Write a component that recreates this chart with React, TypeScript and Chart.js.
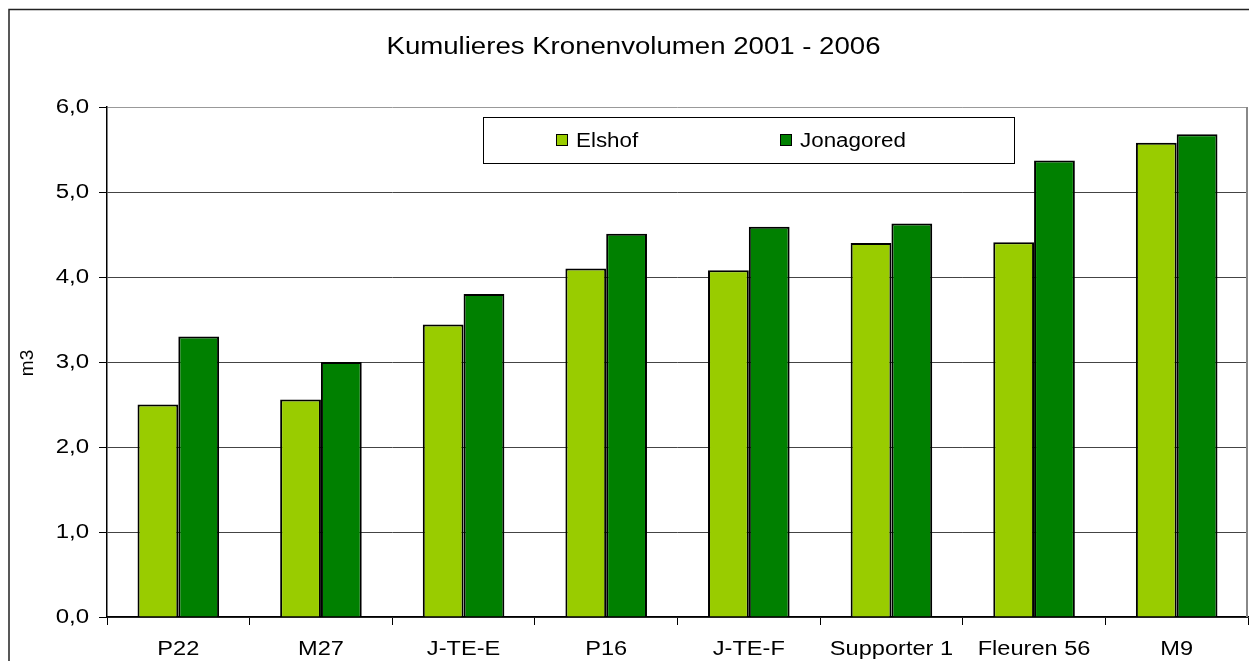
import React, { useEffect, useRef } from "react";
import { Chart, registerables } from "chart.js";

Chart.register(...registerables);

const categories = ["P22", "M27", "J-TE-E", "P16", "J-TE-F", "Supporter 1", "Fleuren 56", "M9"];
const elshof = [2.5, 2.56, 3.44, 4.1, 4.08, 4.4, 4.41, 5.58];
const jonagored = [3.3, 3.0, 3.8, 4.51, 4.59, 4.63, 5.37, 5.68];
const yTicks = [0, 1, 2, 3, 4, 5, 6];
const seriesNames = ["Elshof", "Jonagored"];
const seriesColors = ["#99CC00", "#008000"];
const titleText = "Kumulieres Kronenvolumen 2001 - 2006";
const yTitle = "m3";

const FONT = "'Liberation Sans', Arial, sans-serif";

function stretchedText(ctx: CanvasRenderingContext2D, text: string, x: number, y: number, size: number, sx: number, align: "left" | "center" | "right") {
  ctx.save();
  ctx.font = `${size}px ${FONT}`;
  ctx.textBaseline = "middle";
  ctx.textAlign = align;
  ctx.translate(x, y);
  ctx.scale(sx, 1);
  ctx.fillStyle = "#000";
  ctx.fillText(text, 0, 0);
  ctx.restore();
}

const decorPlugin = {
  id: "decor",
  afterDraw(chart: any) {
    const ctx: CanvasRenderingContext2D = chart.ctx;
    const area = chart.chartArea;
    const xs = chart.scales.x;
    const ys = chart.scales.y;
    ctx.save();
    // outer frame (left and top visible)
    ctx.strokeStyle = "#222";
    ctx.lineWidth = 1.5;
    ctx.beginPath();
    ctx.moveTo(1, chart.height);
    ctx.lineTo(1, 1.5);
    ctx.lineTo(chart.width, 1.5);
    ctx.stroke();
    // plot border right
    ctx.strokeStyle = "#888";
    ctx.lineWidth = 2;
    ctx.beginPath();
    ctx.moveTo(area.right - 1, area.top);
    ctx.lineTo(area.right - 1, area.bottom);
    ctx.stroke();
    ctx.restore();

    // title
    stretchedText(ctx, titleText, 625.5, 40, 23, 1.2, "center");
    // y tick labels
    yTicks.forEach((v) => {
      const y = ys.getPixelForValue(v);
      stretchedText(ctx, v.toFixed(1).replace(".", ","), 81, y, 20, 1.2, "right");
    });
    // x labels
    categories.forEach((c, i) => {
      const x = xs.getPixelForValue(i);
      stretchedText(ctx, c, x, 641, 20, 1.18, "center");
    });
    // y title
    ctx.save();
    ctx.translate(20, 355);
    ctx.rotate(-Math.PI / 2);
    ctx.font = `19px ${FONT}`;
    ctx.textAlign = "center";
    ctx.textBaseline = "middle";
    ctx.fillStyle = "#000";
    ctx.fillText(yTitle, 0, 0);
    ctx.restore();

    // legend
    ctx.save();
    ctx.fillStyle = "#fff";
    ctx.fillRect(475, 109, 531, 46);
    ctx.strokeStyle = "#000";
    ctx.lineWidth = 1;
    ctx.strokeRect(475.5, 109.5, 531, 46);
    const items = [
      { sx: 548, tx: 568 },
      { sx: 772, tx: 792 },
    ];
    items.forEach((it, i) => {
      ctx.fillStyle = seriesColors[i];
      ctx.fillRect(it.sx, 126, 12, 12);
      ctx.strokeStyle = "#000";
      ctx.strokeRect(it.sx + 0.5, 126.5, 11, 11);
      stretchedText(ctx, seriesNames[i], it.tx, 133, 20, 1.12, "left");
    });
    ctx.restore();
  },
};

export default function App() {
  const ref = useRef<HTMLCanvasElement>(null);
  useEffect(() => {
    if (!ref.current) return;
    document.documentElement.style.overflow = "hidden";
    Chart.defaults.font.family = FONT;
    const chart = new Chart(ref.current, {
      type: "bar",
      data: {
        labels: categories,
        datasets: [
          {
            label: seriesNames[0],
            data: elshof,
            backgroundColor: seriesColors[0],
            borderColor: "#000",
            borderWidth: 2,
            categoryPercentage: 0.572,
            barPercentage: 1,
          },
          {
            label: seriesNames[1],
            data: jonagored,
            backgroundColor: seriesColors[1],
            borderColor: "#000",
            borderWidth: 2,
            categoryPercentage: 0.572,
            barPercentage: 1,
          },
        ],
      },
      options: {
        animation: false,
        responsive: false,
        layout: { padding: { top: 99, left: 0, right: 1, bottom: 0 } },
        plugins: {
          legend: { display: false },
          title: { display: false },
          tooltip: { enabled: false },
        },
        scales: {
          x: {
            offset: true,
            grid: {
              offset: true,
              drawOnChartArea: false,
              drawTicks: true,
              tickLength: 8,
              color: "#000",
            },
            border: { color: "#000", width: 1.5 },
            ticks: { display: false },
            afterFit: (s: any) => {
              s.height = 44;
            },
          },
          y: {
            min: 0,
            max: 6,
            ticks: { display: false, stepSize: 1 },
            grid: {
              color: (c: any) => (c.tick && c.tick.value === 6 ? "#999" : "#444"),
              lineWidth: 1,
              tickLength: 8,
              tickColor: "#000",
            },
            border: { color: "#000", width: 1.5 },
            afterFit: (s: any) => {
              s.width = 99;
            },
          },
        },
      },
      plugins: [decorPlugin],
    });
    return () => chart.destroy();
  }, []);
  return (
    <div style={{ width: 1241, height: 653 }}>
      <canvas ref={ref} width={1241} height={653} style={{ display: "block" }} />
    </div>
  );
}
